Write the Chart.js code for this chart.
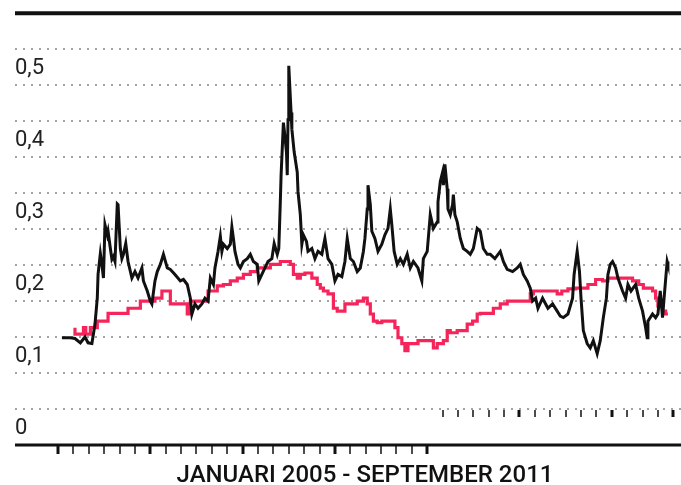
<!DOCTYPE html>
<html>
<head>
<meta charset="utf-8">
<script src="https://cdn.jsdelivr.net/npm/chart.js@4/dist/chart.umd.min.js"></script>
<style>
  body { margin: 0; background: #fff; }
</style>
</head>
<body>
<canvas id="volChart" width="681" height="485"></canvas>
<script>
// months since January 2005 (0 = jan 2005, 80 = sep 2011)
var blackMonths = [0.5,1.6,2.2,2.9,3.5,3.9,4.4,4.8,5.1,5.2,5.5,5.7,5.9,6.1,6.4,6.5,6.8,7.0,7.2,7.4,7.7,7.8,8.1,8.3,8.5,8.8,9.1,9.6,10.0,10.4,10.9,11.1,11.6,12.0,12.2,12.6,12.9,13.3,13.7,14.2,14.6,15.2,15.9,16.3,
    16.8,17.2,17.4,17.8,18.2,18.7,19.1,19.5,19.8,20.2,20.4,20.8,21.1,21.3,21.5,22.0,22.4,22.6,22.8,23.0,23.4,23.7,24.1,24.6,25.0,25.4,25.9,26.1,26.5,26.9,27.3,27.8,28.1,28.5,28.7,28.9,29.0,29.3,29.4,29.7,29.8,29.9,30.0,30.3,30.4,30.7,31.1,31.2,31.5,31.7,31.9,32.3,32.5,
    33.0,33.4,33.8,34.3,34.7,35.1,35.6,36.0,36.4,36.9,37.3,37.6,38.0,38.4,38.9,39.3,39.7,39.9,40.2,40.3,40.6,40.8,41.2,41.6,42.1,42.5,42.9,43.2,43.4,43.7,44.1,44.5,44.9,45.4,45.8,46.2,46.8,47.3,47.5,48.0,48.4,
    48.8,49.3,49.4,49.7,50.0,50.1,50.3,50.6,50.7,51.0,51.3,51.4,51.6,51.9,52.3,52.7,53.2,53.6,54.0,54.5,54.9,55.3,55.8,56.2,56.8,57.5,57.9,58.4,59.1,59.7,60.1,60.5,61.0,61.4,61.7,62.1,62.4,63.0,63.4,63.7,64.3,64.9,
    65.3,65.7,66.3,66.9,67.1,67.5,67.8,68.0,68.3,68.8,69.2,69.6,70.1,70.5,70.9,71.3,71.5,71.8,72.1,72.5,72.8,73.4,73.8,74.1,74.5,75.1,75.5,76.0,76.4,76.6,76.7,77.3,77.7,78.0,78.3,78.6,78.8,79.2,79.3];
var blackValues = [0.149,0.149,0.148,0.142,0.150,0.142,0.141,0.168,0.204,0.237,0.266,0.251,0.232,0.306,0.292,0.297,0.273,0.258,0.262,0.255,0.335,0.334,0.273,0.259,0.265,0.280,0.255,0.232,0.241,0.232,0.246,0.228,0.214,0.200,0.196,0.228,0.241,0.251,0.265,0.246,0.244,0.237,0.228,0.230,
    0.223,0.204,0.182,0.196,0.190,0.196,0.204,0.200,0.232,0.223,0.246,0.269,0.290,0.269,0.279,0.273,0.279,0.303,0.287,0.269,0.251,0.246,0.255,0.259,0.265,0.255,0.251,0.228,0.237,0.246,0.255,0.259,0.280,0.265,0.273,0.338,0.375,0.448,0.439,0.407,0.375,0.452,0.527,0.462,0.439,0.407,0.379,0.352,0.320,0.279,0.292,0.283,0.269,
    0.273,0.259,0.269,0.265,0.287,0.259,0.251,0.228,0.237,0.234,0.255,0.287,0.259,0.255,0.241,0.246,0.269,0.287,0.328,0.361,0.334,0.297,0.287,0.269,0.279,0.292,0.301,0.328,0.306,0.269,0.251,0.259,0.251,0.265,0.246,0.255,0.246,0.228,0.259,0.269,0.320,
    0.301,0.310,0.338,0.366,0.379,0.361,0.390,0.356,0.328,0.320,0.334,0.348,0.320,0.310,0.287,0.273,0.269,0.265,0.273,0.301,0.297,0.273,0.265,0.265,0.259,0.269,0.255,0.244,0.241,0.246,0.251,0.237,0.228,0.218,0.200,0.204,0.190,0.204,0.196,0.190,0.196,0.186,
    0.179,0.177,0.182,0.204,0.237,0.269,0.241,0.204,0.159,0.141,0.135,0.145,0.127,0.145,0.177,0.204,0.237,0.251,0.255,0.246,0.232,0.214,0.204,0.223,0.214,0.223,0.204,0.186,0.163,0.149,0.172,0.182,0.177,0.182,0.214,0.177,0.204,0.255,0.251];

// red series is a step line, each point is where a new level starts
var redMonths = [2.2,3.3,3.6,4.2,5.1,6.5,9.1,10.7,12.6,13.5,14.6,16.8,17.2,19.5,20.7,21.5,22.4,23.3,24.1,25.0,25.9,27.6,28.9,30.2,30.6,31.1,31.5,32.1,33.0,33.7,34.1,34.5,35.1,35.8,36.3,37.3,38.9,39.7,40.2,40.6,
    41.0,41.5,42.1,43.8,44.2,44.7,45.1,45.5,46.8,48.8,49.3,50.1,50.6,51.0,51.9,53.2,53.9,54.5,54.9,56.6,57.5,58.4,61.4,61.8,64.9,65.5,66.3,67.3,68.9,69.9,70.8,71.5,74.7,75.5,76.1,77.3,77.7,78.0,78.6,79.0,79.3];
var redValues = [0.163,0.154,0.163,0.154,0.163,0.172,0.183,0.190,0.200,0.204,0.214,0.196,0.182,0.200,0.214,0.221,0.223,0.228,0.232,0.237,0.241,0.246,0.251,0.255,0.251,0.237,0.232,0.237,0.239,0.232,0.223,0.218,0.214,0.210,0.190,0.186,0.196,0.200,0.204,0.196,
    0.182,0.172,0.170,0.172,0.163,0.149,0.141,0.131,0.141,0.145,0.135,0.141,0.145,0.159,0.156,0.159,0.168,0.172,0.182,0.183,0.190,0.196,0.200,0.210,0.214,0.210,0.214,0.217,0.218,0.223,0.230,0.228,0.232,0.228,0.223,0.218,0.214,0.204,0.193,0.186,0.182];

var lowerTicks = [0,2,4,6,8,10,12,14,16,18,20,22,24,26,28,30,32,34,36,38,40,42,44,46,48];
var upperTicks = [50,52,54,56,58,60,62,64,66,68,70,72,74,76,78,80];
var xTitle = "JANUARI 2005 - SEPTEMBER 2011";

function toPoints(xs, ys) {
    return xs.map(function (m, i) { return { x: m, y: ys[i] }; });
}

// lijnen boven/onder, maandstreepjes en titel
var decor = {
    id: "decor",
    afterDraw: function (chart) {
        var ctx = chart.ctx;
        var x = chart.scales.x;
        var y = chart.scales.y;
        var left = chart.chartArea.left;
        ctx.save();
        ctx.strokeStyle = "#111";
        ctx.lineWidth = 4;
        ctx.beginPath();
        ctx.moveTo(left, y.getPixelForValue(0.6));
        ctx.lineTo(chart.width, y.getPixelForValue(0.6));
        ctx.stroke();
        var base = y.getPixelForValue(0);
        ctx.lineWidth = 3;
        ctx.beginPath();
        ctx.moveTo(left, base);
        ctx.lineTo(chart.width, base);
        ctx.stroke();

        function tick(m, top, len) {
            var px = Math.round(x.getPixelForValue(m));
            ctx.lineWidth = (m % 12 === 0 || m === 80) ? 3 : 1.5;
            ctx.beginPath();
            ctx.moveTo(px, top);
            ctx.lineTo(px, top + len);
            ctx.stroke();
        }
        lowerTicks.forEach(function (m) { tick(m, base, 9); });
        var upper = y.getPixelForValue(0.05) + 1;
        upperTicks.forEach(function (m) { tick(m, upper, 7); });

        ctx.fillStyle = "#111";
        ctx.font = "500 24px Roboto";
        ctx.textAlign = "center";
        ctx.textBaseline = "alphabetic";
        ctx.fillText(xTitle, 365, 482);
        ctx.restore();
    }
};

new Chart(document.getElementById("volChart").getContext("2d"), {
    type: "line",
    data: {
        datasets: [
            {
                label: "zwart",
                data: toPoints(blackMonths, blackValues),
                borderColor: "#111",
                borderWidth: 3,
                pointRadius: 0,
                tension: 0,
            },
            {
                label: "rood",
                data: toPoints(redMonths, redValues),
                borderColor: "#f5245a",
                borderWidth: 3.2,
                pointRadius: 0,
                stepped: "after",
            },
        ],
    },
    options: {
        responsive: false,
        animation: false,
        layout: { padding: { left: 15, right: 0, top: 10, bottom: 40 } },
        plugins: { legend: { display: false }, tooltip: { enabled: false } },
        scales: {
            x: { type: "linear", min: -5.6, max: 81, display: false },
            y: {
                min: 0,
                max: 0.6,
                border: { display: false, dash: [2, 6] },
                grid: {
                    drawTicks: false,
                    lineWidth: 2,
                    color: function (c) {
                        var k = Math.round(c.tick.value * 100);
                        return (k === 0 || k === 60) ? "rgba(0,0,0,0)" : "#a3a3a3";
                    },
                },
                ticks: {
                    stepSize: 0.05,
                    mirror: true,
                    padding: 0,
                    labelOffset: -17,
                    color: "#222",
                    font: { family: "Roboto", size: 22 },
                    callback: function (v) {
                        var k = Math.round(v * 100);
                        if (k === 60) return null;
                        if (k % 10 !== 0) return "";
                        return k === 0 ? "0" : "0," + (k / 10);
                    },
                },
            },
        },
    },
    plugins: [decor],
});
</script>
</body>
</html>
